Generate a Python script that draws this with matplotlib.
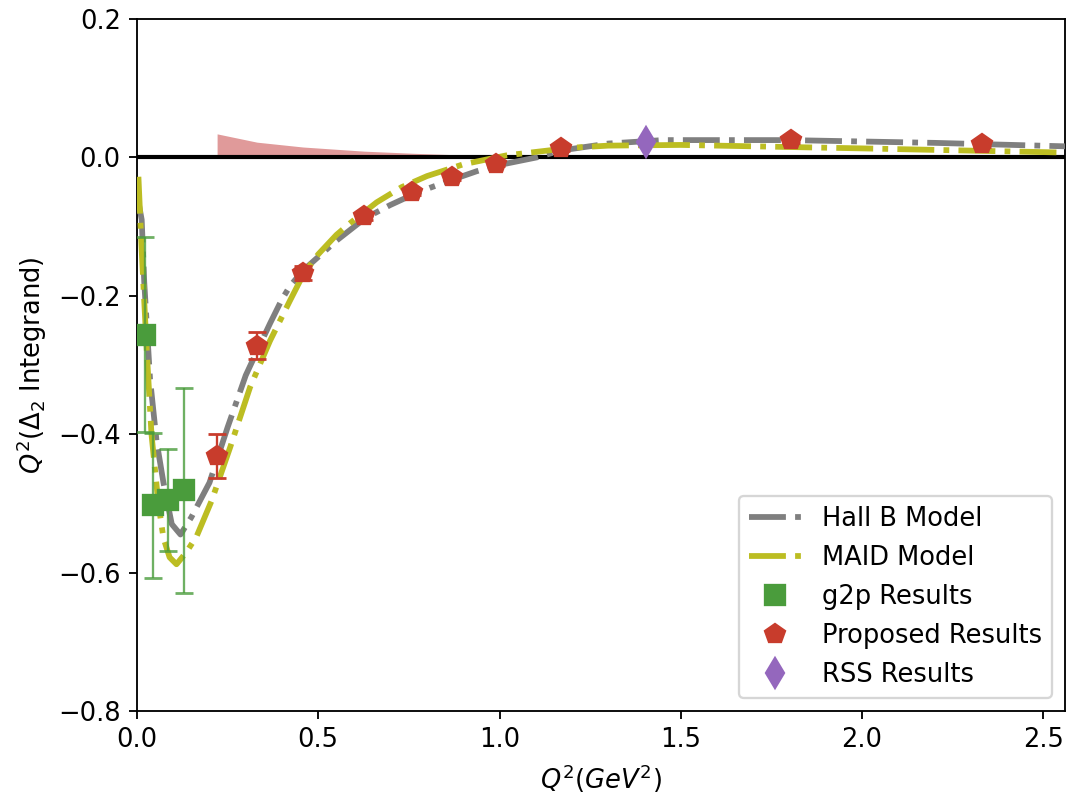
import numpy as np
import matplotlib
matplotlib.use("Agg")
import matplotlib.pyplot as plt

# Hall B model curve
hallb_x = [0.006, 0.013, 0.020, 0.036, 0.054, 0.073, 0.096, 0.12, 0.15, 0.20, 0.25, 0.30,
           0.34, 0.367, 0.40, 0.422, 0.459, 0.551, 0.629, 0.698, 0.76, 0.808, 0.871, 0.937, 0.99,
           1.103, 1.17, 1.3, 1.45, 1.8, 2.2, 2.56]
hallb_y = [-0.07, -0.09, -0.18, -0.32, -0.41, -0.47, -0.53, -0.545, -0.52, -0.47, -0.39, -0.315,
           -0.27, -0.24, -0.205, -0.186, -0.163, -0.12, -0.088, -0.069, -0.054, -0.044, -0.032, -0.02, -0.012,
           0.0, 0.01, 0.02, 0.025, 0.025, 0.021, 0.016]

# MAID model curve
maid_x = [0.004, 0.013, 0.027, 0.040, 0.059, 0.073, 0.09, 0.109, 0.137, 0.165, 0.206, 0.257,
          0.312, 0.367, 0.422, 0.46, 0.5, 0.55, 0.588, 0.661, 0.73, 0.8, 0.9, 1.02, 1.2, 1.3, 1.5, 2.0, 2.56]
maid_y = [-0.028, -0.135, -0.28, -0.40, -0.50, -0.55, -0.578, -0.588, -0.57, -0.547, -0.496, -0.419,
          -0.332, -0.265, -0.207, -0.168, -0.14, -0.112, -0.095, -0.065, -0.043, -0.027, -0.01, 0.003, 0.014, 0.017,
          0.018, 0.013, 0.007]

# g2p results
g2p_x = [0.022, 0.045, 0.086, 0.130]
g2p_y = [-0.256, -0.503, -0.495, -0.481]
g2p_err = [0.141, 0.105, 0.074, 0.148]

# proposed results
prop_x = [0.221, 0.331, 0.458, 0.627, 0.760, 0.870, 0.990, 1.170, 1.805, 2.330]
prop_y = [-0.432, -0.272, -0.167, -0.085, -0.050, -0.028, -0.009, 0.013, 0.025, 0.019]
prop_err = [0.032, 0.020, 0.010, 0.006, 0.005, 0.004, 0.004, 0.004, 0.004, 0.004]
prop_sys = [0.034, 0.022, 0.015, 0.009, 0.006, 0.004, 0.003, 0.002, 0.001, 0.001]

# RSS results
rss_x = [1.405]
rss_y = [0.022]

plt.rcParams['font.size'] = 11.2

fig, ax = plt.subplots(figsize=(1066 / 166, 795 / 166), dpi=166)
fig.subplots_adjust(left=0.1285, right=0.9991, bottom=0.1057, top=0.9761)

ax.fill_between(prop_x, 0, prop_sys, color='#e09a9a', lw=0, zorder=1)
ax.axhline(0, color='black', lw=1.8, zorder=2)

ax.plot(hallb_x, hallb_y, '-.', color='tab:gray', lw=2.5, label='Hall B Model', zorder=3)
ax.plot(maid_x, maid_y, '-.', color='tab:olive', lw=2.5, label='MAID Model', zorder=3)

ax.errorbar(g2p_x, g2p_y, yerr=g2p_err, fmt='none', ecolor='#4a9c3c', alpha=0.8,
            elinewidth=1, capsize=4, capthick=1.2, zorder=4)
ax.plot(g2p_x, g2p_y, 's', color='#4a9c3c', ms=8.5, ls='none', label='g2p Results', zorder=5)

ax.errorbar(prop_x, prop_y, yerr=prop_err, fmt='none', ecolor='#c83c2c',
            elinewidth=1, capsize=4, capthick=1.2, zorder=4)
ax.plot(prop_x, prop_y, 'p', color='#c83c2c', ms=9, ls='none', label='Proposed Results', zorder=5)

ax.plot(rss_x, rss_y, 'd', color='#9467bd', ms=9, ls='none', label='RSS Results', zorder=5)

ax.set_xlim(0, 2.56)
ax.set_ylim(-0.8, 0.2)
ax.set_xticks([0.0, 0.5, 1.0, 1.5, 2.0, 2.5])
ax.set_yticks([-0.8, -0.6, -0.4, -0.2, 0.0, 0.2])
ax.set_xlabel(r'$Q^2(GeV^2)$')
ax.set_ylabel(r'$Q^2(\Delta_2$ Integrand)')
ax.legend(loc='lower right')

fig.savefig('out.png', dpi=166)
